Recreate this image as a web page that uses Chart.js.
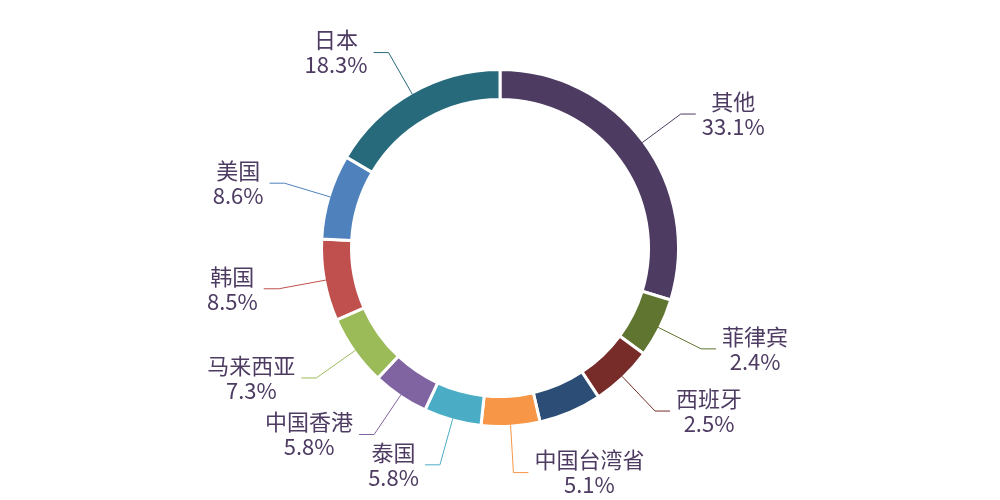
<!DOCTYPE html>
<html>
<head>
<meta charset="utf-8">
<script src="https://cdn.jsdelivr.net/npm/chart.js@4.4.1/dist/chart.umd.min.js"></script>
<style>
  html, body { margin: 0; padding: 0; background: #ffffff; }
  #wrap { width: 1000px; height: 500px; }
</style>
</head>
<body>
<div id="wrap"><canvas id="c" width="1000" height="500"></canvas></div>
<script>
// Categories, clockwise from 12 o'clock (one slice has no visible label)
const categories = ['其他', '菲律宾', '西班牙', '', '中国台湾省', '泰国', '中国香港', '马来西亚', '韩国', '美国', '日本'];
// Slice sizes as drawn in the picture (estimated share of the ring, %)
const sliceValues = [29.7, 5.4, 5.6, 5.7, 5.3, 5.2, 5.1, 6.4, 7.4, 7.7, 16.5];
// Percentages printed in the labels (null = no label shown)
const labelShares = [33.1, 2.4, 2.5, null, 5.1, 5.8, 5.8, 7.3, 8.5, 8.6, 18.3];
const sliceColors = ['#4D3B62', '#5F7530', '#772C2A', '#2C4D75', '#F79646', '#4BACC6', '#8064A2', '#9BBB59', '#C0504D', '#4F81BD', '#276A7C'];

const BORDER = 3;
const FONT = '400 22px "Noto Sans CJK SC", "Noto Sans", sans-serif';
const TEXT_COLOR = '#4D3B62';

const leaderPlugin = {
  id: 'leaders',
  afterDraw(chart) {
    const ctx = chart.ctx;
    const meta = chart.getDatasetMeta(0);
    ctx.save();
    ctx.font = FONT;
    ctx.textBaseline = 'middle';
    ctx.textAlign = 'center';
    meta.data.forEach((arc, i) => {
      const share = labelShares[i];
      if (share === null || !categories[i]) return;
      const p = arc.getProps(['x', 'y', 'startAngle', 'endAngle', 'outerRadius'], true);
      const mid = (p.startAngle + p.endAngle) / 2;
      const r0 = p.outerRadius - BORDER / 2;
      const r1 = r0 + 48;
      const sx = p.x + Math.cos(mid) * r0, sy = p.y + Math.sin(mid) * r0;
      const ex = p.x + Math.cos(mid) * r1, ey = p.y + Math.sin(mid) * r1;
      const right = ex >= p.x;
      const hx = ex + (right ? 15 : -15);
      ctx.strokeStyle = sliceColors[i];
      ctx.lineWidth = 1;
      ctx.beginPath();
      ctx.moveTo(sx, sy);
      ctx.lineTo(ex, ey);
      ctx.lineTo(hx, ey);
      ctx.stroke();
      const l1 = categories[i];
      const l2 = share.toFixed(1) + '%';
      const w = Math.max(ctx.measureText(l1).width, ctx.measureText(l2).width);
      const gap = 6;
      const cx = right ? hx + gap + w / 2 : hx - gap - w / 2;
      ctx.fillStyle = TEXT_COLOR;
      ctx.fillText(l1, cx, ey - 12.5);
      ctx.fillText(l2, cx, ey + 12.5);
    });
    ctx.restore();
  }
};

new Chart(document.getElementById('c'), {
  type: 'doughnut',
  data: {
    labels: categories,
    datasets: [{
      data: sliceValues,
      backgroundColor: sliceColors,
      borderColor: '#ffffff',
      borderWidth: BORDER,
      hoverOffset: 0
    }]
  },
  options: {
    responsive: false,
    animation: false,
    devicePixelRatio: 1,
    radius: 178.5,
    cutout: '83.2%',
    layout: { padding: { top: 0, bottom: 4, left: 0, right: 0 } },
    plugins: {
      legend: { display: false },
      tooltip: { enabled: false },
      title: { display: false }
    }
  },
  plugins: [leaderPlugin]
});
</script>
</body>
</html>
